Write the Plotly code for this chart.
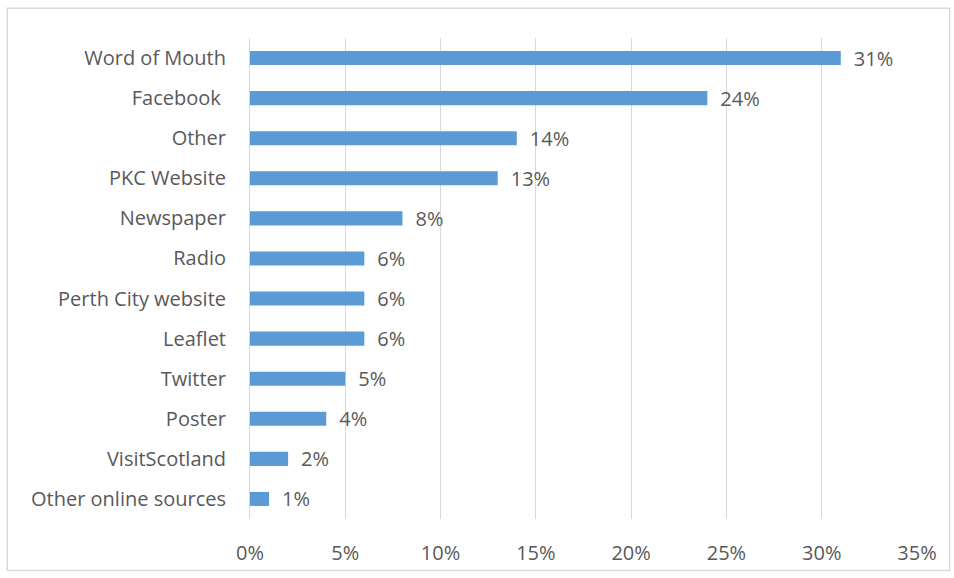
import plotly.graph_objects as go

categories = ["Word of Mouth", "Facebook ", "Other", "PKC Website", "Newspaper", "Radio",
              "Perth City website", "Leaflet", "Twitter", "Poster", "VisitScotland",
              "Other online sources"]
values = [31, 24, 14, 13, 8, 6, 6, 6, 5, 4, 2, 1]
tick_vals = [0, 5, 10, 15, 20, 25, 30, 35]
tick_text = ["0%", "5%", "10%", "15%", "20%", "25%", "30%", "35%"]

font_family = "Open Sans, Liberation Sans, sans-serif"
grey = "#595959"
fsize = 20

fig = go.Figure()
fig.add_trace(go.Bar(
    y=categories, x=values, orientation="h",
    marker=dict(color="#5B9BD5", line=dict(width=0)),
    width=0.35,
    text=["\u2002" + f"{v}%" for v in values],
    textposition="outside",
    constraintext="none",
    textfont=dict(family=font_family, size=fsize, color=grey),
    cliponaxis=False,
))

fig.update_layout(
    width=954, height=578,
    margin=dict(l=250, r=37, t=38, b=55),
    plot_bgcolor="white", paper_bgcolor="white",
    showlegend=False,
    font=dict(family=font_family, size=fsize, color=grey),
    xaxis=dict(range=[0, 35], tickvals=tick_vals, ticktext=tick_text,
               showgrid=True, gridcolor="#d9d9d9", gridwidth=1,
               zeroline=False, showline=False,
               ticks="outside", ticklen=16, tickcolor="rgba(0,0,0,0)",
               tickfont=dict(size=fsize, color=grey)),
    yaxis=dict(autorange="reversed", showgrid=False,
               showline=True, linecolor="#d9d9d9", linewidth=1,
               ticks="outside", ticklen=19, tickcolor="rgba(0,0,0,0)",
               tickfont=dict(size=fsize, color=grey)),
    shapes=[dict(type="rect", xref="paper", yref="paper",
                 x0=-0.364, x1=1.049, y0=-0.107, y1=1.062,
                 line=dict(color="#d9d9d9", width=1.5), fillcolor="rgba(0,0,0,0)",
                 layer="below")],
    bargap=0.65,
)

fig.write_html("out.html")
